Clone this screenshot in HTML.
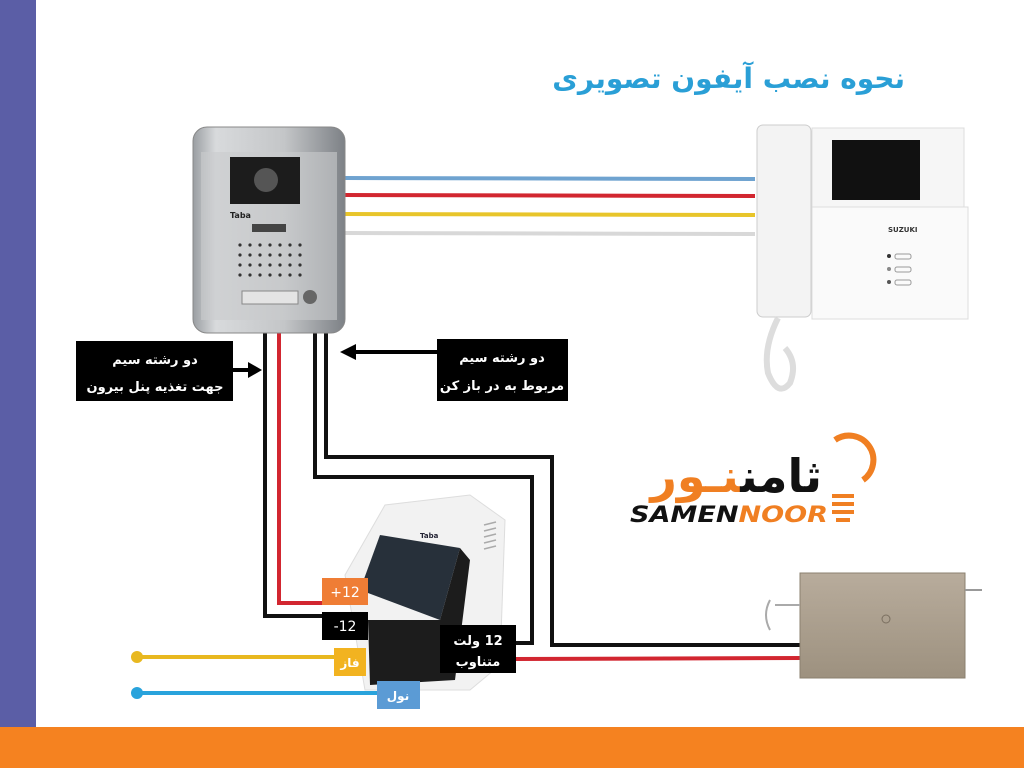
<!DOCTYPE html>
<html><head><meta charset="utf-8"><style>
html,body{margin:0;padding:0;background:#fff}
svg{display:block}
text{font-family:"DejaVu Sans","Liberation Sans",sans-serif}
</style></head><body>
<svg width="1024" height="768" viewBox="0 0 1024 768" xmlns="http://www.w3.org/2000/svg">
<defs>
<linearGradient id="silver" x1="0" y1="0" x2="1" y2="0">
<stop offset="0" stop-color="#9a9ea2"/><stop offset="0.15" stop-color="#d8dadc"/><stop offset="0.6" stop-color="#c4c6c8"/><stop offset="1" stop-color="#7d8186"/>
</linearGradient>
<linearGradient id="lockg" x1="0" y1="0" x2="0" y2="1">
<stop offset="0" stop-color="#b8ac9c"/><stop offset="1" stop-color="#9d917f"/>
</linearGradient>
</defs>
<rect x="0" y="0" width="36" height="727" fill="#5b5ea6"/>
<rect x="0" y="727" width="1024" height="41" fill="#f58220"/>
<text x="905" y="88" text-anchor="start" direction="rtl" font-size="28" font-weight="bold" fill="#2a9fd6">نحوه نصب آیفون تصویری</text>

<g stroke-width="4" fill="none">
<line x1="345" y1="178" x2="755" y2="179" stroke="#6fa3d0"/>
<line x1="345" y1="195" x2="755" y2="196" stroke="#d22630"/>
<line x1="345" y1="214" x2="755" y2="215" stroke="#e8c52a"/>
<line x1="345" y1="233" x2="755" y2="234" stroke="#d8d8d8"/>
</g>
<g stroke-width="4" fill="none" stroke-linejoin="miter">
<polyline points="265,332 265,616 325,616" stroke="#111"/>
<polyline points="279,332 279,603 325,603" stroke="#d22630"/>
<polyline points="315,332 315,477 532,477 532,643 515,643" stroke="#111"/>
<polyline points="326,332 326,457 552,457 552,645 802,645" stroke="#111"/>
<line x1="515" y1="659" x2="803" y2="658" stroke="#d22630"/>
<line x1="136" y1="657" x2="340" y2="657" stroke="#e8b820"/>
<line x1="136" y1="693" x2="380" y2="693" stroke="#29a3dc"/>
</g>
<circle cx="137" cy="657" r="6" fill="#e8b820"/>
<circle cx="137" cy="693" r="6" fill="#29a3dc"/>

<rect x="193" y="127" width="152" height="206" rx="14" fill="url(#silver)" stroke="#888" stroke-width="1"/>
<rect x="201" y="152" width="136" height="168" fill="#c9cbcd" opacity="0.6"/>
<rect x="230" y="157" width="70" height="47" fill="#1c1c1c"/>
<circle cx="266" cy="180" r="12" fill="#555"/>
<text x="230" y="218" font-size="8" font-weight="bold" fill="#222">Taba</text>
<rect x="252" y="224" width="34" height="8" fill="#444"/>
<g fill="#333">
<circle cx="240" cy="245" r="1.6"/><circle cx="250" cy="245" r="1.6"/><circle cx="260" cy="245" r="1.6"/><circle cx="270" cy="245" r="1.6"/><circle cx="280" cy="245" r="1.6"/><circle cx="290" cy="245" r="1.6"/><circle cx="300" cy="245" r="1.6"/>
<circle cx="240" cy="255" r="1.6"/><circle cx="250" cy="255" r="1.6"/><circle cx="260" cy="255" r="1.6"/><circle cx="270" cy="255" r="1.6"/><circle cx="280" cy="255" r="1.6"/><circle cx="290" cy="255" r="1.6"/><circle cx="300" cy="255" r="1.6"/>
<circle cx="240" cy="265" r="1.6"/><circle cx="250" cy="265" r="1.6"/><circle cx="260" cy="265" r="1.6"/><circle cx="270" cy="265" r="1.6"/><circle cx="280" cy="265" r="1.6"/><circle cx="290" cy="265" r="1.6"/><circle cx="300" cy="265" r="1.6"/>
<circle cx="240" cy="275" r="1.6"/><circle cx="250" cy="275" r="1.6"/><circle cx="260" cy="275" r="1.6"/><circle cx="270" cy="275" r="1.6"/><circle cx="280" cy="275" r="1.6"/><circle cx="290" cy="275" r="1.6"/><circle cx="300" cy="275" r="1.6"/>
</g>
<rect x="242" y="291" width="56" height="13" fill="#e4e4e4" stroke="#888"/>
<circle cx="310" cy="297" r="7" fill="#666"/>

<rect x="757" y="125" width="54" height="192" rx="6" fill="#f3f3f3" stroke="#ccc"/>
<rect x="812" y="128" width="152" height="190" fill="#f6f6f6" stroke="#ddd"/>
<rect x="812" y="207" width="156" height="112" fill="#fafafa" stroke="#ddd"/>
<rect x="832" y="140" width="88" height="60" fill="#111"/>
<text x="888" y="232" font-size="7" font-weight="bold" fill="#333">SUZUKI</text>
<rect x="895" y="254" width="16" height="5" rx="2" fill="none" stroke="#999"/>
<rect x="895" y="267" width="16" height="5" rx="2" fill="none" stroke="#999"/>
<rect x="895" y="280" width="16" height="5" rx="2" fill="none" stroke="#999"/>
<circle cx="889" cy="256" r="2" fill="#333"/><circle cx="889" cy="269" r="2" fill="#888"/><circle cx="889" cy="282" r="2" fill="#555"/>
<path d="M778 318 q-15 30 -10 55 q10 25 22 10 q8 -20 -5 -35" fill="none" stroke="#ddd" stroke-width="6"/>

<rect x="76" y="341" width="157" height="60" fill="#000"/>
<text x="155" y="364" text-anchor="middle" direction="rtl" font-size="13" font-weight="bold" fill="#fff">دو رشته سیم</text>
<text x="155" y="391" text-anchor="middle" direction="rtl" font-size="13" font-weight="bold" fill="#fff">جهت تغذیه پنل بیرون</text>
<line x1="233" y1="370" x2="250" y2="370" stroke="#000" stroke-width="4"/>
<polygon points="262,370 248,362 248,378" fill="#000"/>
<rect x="437" y="339" width="131" height="62" fill="#000"/>
<text x="502" y="362" text-anchor="middle" direction="rtl" font-size="13" font-weight="bold" fill="#fff">دو رشته سیم</text>
<text x="502" y="390" text-anchor="middle" direction="rtl" font-size="13" font-weight="bold" fill="#fff">مربوط به در باز کن</text>
<line x1="355" y1="352" x2="437" y2="352" stroke="#000" stroke-width="4"/>
<polygon points="340,352 356,344 356,360" fill="#000"/>

<text x="822" y="492" text-anchor="start" direction="rtl" font-size="46" font-weight="bold" fill="#111">ثامن<tspan fill="#f07f22">نـور</tspan></text>
<path d="M835 440 a22 22 0 0 1 28 40" fill="none" stroke="#f07f22" stroke-width="6"/>
<text x="630" y="522" font-size="22" font-weight="bold" font-style="italic" fill="#111" font-family="Liberation Sans" textLength="198" lengthAdjust="spacingAndGlyphs">SAMEN<tspan fill="#f07f22">NOOR</tspan></text>
<g fill="#f07f22"><rect x="832" y="494" width="22" height="4"/><rect x="832" y="502" width="22" height="4"/><rect x="832" y="510" width="22" height="4"/><rect x="836" y="518" width="14" height="4"/></g>

<rect x="800" y="573" width="165" height="105" fill="url(#lockg)" stroke="#8b806f"/>
<circle cx="886" cy="619" r="4" fill="none" stroke="#7a6f60"/>
<line x1="965" y1="590" x2="982" y2="590" stroke="#999" stroke-width="2"/>
<path d="M800 605 h-25 M770 600 q-8 15 0 30" fill="none" stroke="#aaa" stroke-width="2"/>

<polygon points="345,575 385,505 470,495 505,520 500,665 470,690 365,690" fill="#f2f2f2" stroke="#ddd"/>
<polygon points="360,590 380,535 460,548 440,620" fill="#27303a"/>
<polygon points="368,620 440,620 460,548 470,560 455,680 370,685" fill="#1c1c1c"/>
<g stroke="#aaa" stroke-width="1.5"><line x1="484" y1="525" x2="496" y2="522"/><line x1="484" y1="531" x2="496" y2="528"/><line x1="484" y1="537" x2="496" y2="534"/><line x1="484" y1="543" x2="496" y2="540"/><line x1="484" y1="549" x2="496" y2="546"/></g>
<text x="420" y="538" font-size="7" font-weight="bold" fill="#223">Taba</text>

<rect x="322" y="578" width="46" height="27" fill="#ef7d35"/>
<text x="345" y="597" text-anchor="middle" font-size="14" fill="#fff" font-family="Liberation Sans">+12</text>
<rect x="322" y="612" width="46" height="28" fill="#000"/>
<text x="345" y="631" text-anchor="middle" font-size="14" fill="#fff" font-family="Liberation Sans">-12</text>
<rect x="334" y="648" width="32" height="28" fill="#f2b320"/>
<text x="350" y="667" text-anchor="middle" direction="rtl" font-size="12" font-weight="bold" fill="#fff">فاز</text>
<rect x="377" y="681" width="43" height="28" fill="#5b9bd5"/>
<text x="398" y="700" text-anchor="middle" direction="rtl" font-size="12" font-weight="bold" fill="#fff">نول</text>
<rect x="440" y="625" width="76" height="48" fill="#000"/>
<text x="478" y="645" text-anchor="middle" direction="rtl" font-size="13" font-weight="bold" fill="#fff">12 ولت</text>
<text x="478" y="666" text-anchor="middle" direction="rtl" font-size="13" font-weight="bold" fill="#fff">متناوب</text>
</svg>
</body></html>
